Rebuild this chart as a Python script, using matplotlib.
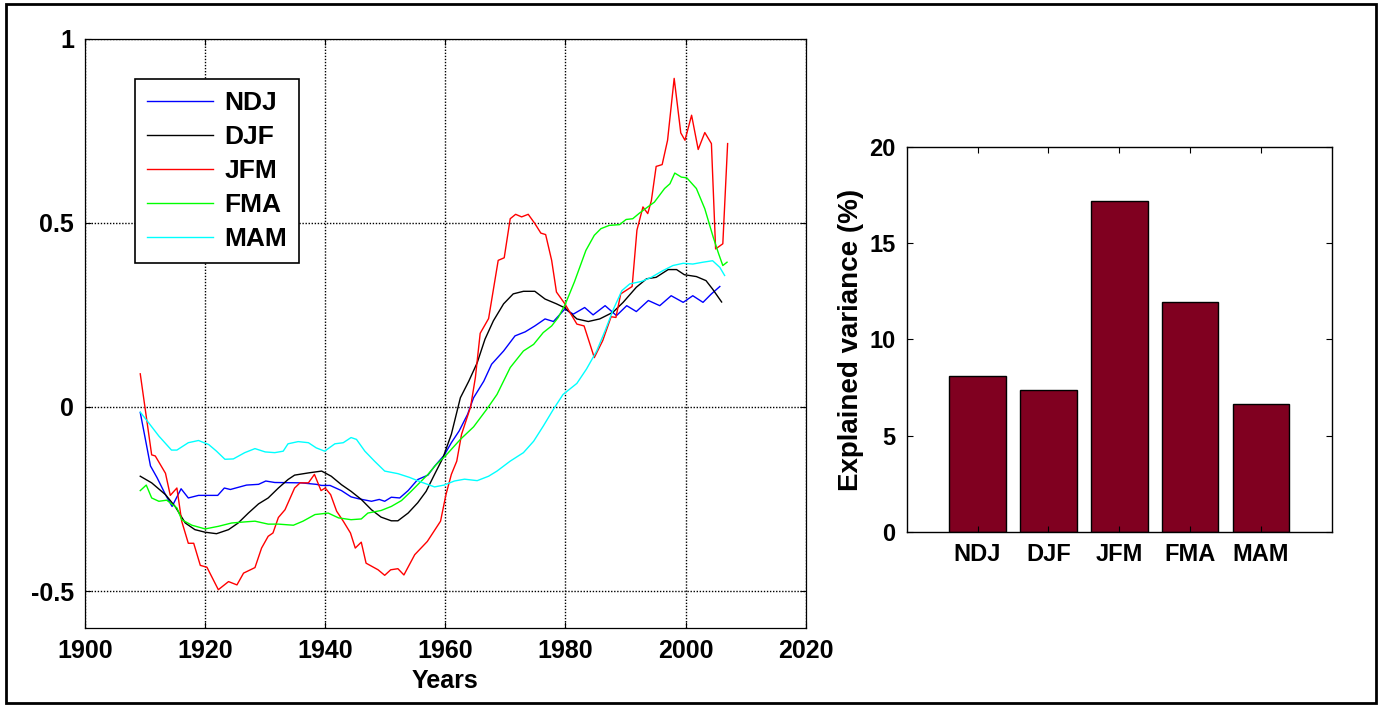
import matplotlib
matplotlib.use("Agg")
import matplotlib.pyplot as plt
from matplotlib.patches import Rectangle

plt.rcParams['font.family'] = ['Liberation Sans', 'DejaVu Sans']
plt.rcParams['font.weight'] = 'bold'

# --- left panel: smoothed series ---
ndj_years = [1909.2, 1910, 1910.9, 1912, 1913.4, 1914.5, 1916, 1917.2, 1918.9, 1922.1, 1923.2,
             1924.2, 1926.9, 1928.9, 1930.1, 1931.6, 1936, 1938.5, 1939.4, 1940.8, 1942.7, 1944.3,
             1945.5, 1947.7, 1949, 1949.9, 1951, 1952.4, 1953.8, 1955.4, 1957.1, 1958.2, 1959.8,
             1961, 1962.3, 1963.7, 1964.7, 1966.4, 1967.7, 1969.7, 1971.6, 1973.3, 1974.9, 1976.6,
             1978, 1979.9, 1981.3, 1983.2, 1984.6, 1986.6, 1988.5, 1990.2, 1991.8, 1993.8, 1995.7,
             1997.6, 1999.6, 2001.2, 2002.9, 2004.3, 2005.7]
ndj_vals = [-0.015, -0.083, -0.16, -0.192, -0.238, -0.27, -0.222, -0.247, -0.24, -0.24, -0.22,
            -0.224, -0.212, -0.21, -0.201, -0.205, -0.206, -0.21, -0.213, -0.213, -0.227, -0.244,
            -0.249, -0.256, -0.251, -0.256, -0.245, -0.247, -0.227, -0.197, -0.185, -0.161, -0.131,
            -0.097, -0.065, -0.02, 0.025, 0.07, 0.116, 0.152, 0.193, 0.204, 0.22, 0.239,
            0.232, 0.266, 0.252, 0.27, 0.25, 0.275, 0.248, 0.275, 0.259, 0.289, 0.275,
            0.302, 0.284, 0.302, 0.284, 0.307, 0.327]

djf_years = [1909.2, 1911.1, 1913.4, 1915, 1916.7, 1918.3, 1920, 1921.9, 1923.9, 1925.5, 1927.2,
             1928.9, 1930.5, 1932.2, 1933.8, 1934.9, 1937.2, 1939.4, 1941, 1942.7, 1944.3, 1946,
             1947.7, 1949.3, 1951, 1952.1, 1953.8, 1955.4, 1956.8, 1958.2, 1959.6, 1961, 1962.5,
             1963.9, 1965.3, 1966.6, 1968, 1969.7, 1971.3, 1973, 1974.9, 1976.6, 1978.5, 1979.9,
             1981.9, 1983.8, 1985.7, 1987.9, 1989.6, 1991.8, 1993.5, 1995.1, 1997.1, 1998.5,
             1999.8, 2001.8, 2003.4, 2004.5, 2006]
djf_vals = [-0.188, -0.206, -0.238, -0.27, -0.315, -0.333, -0.34, -0.344, -0.333, -0.315, -0.288,
            -0.263, -0.247, -0.22, -0.197, -0.185, -0.179, -0.174, -0.188, -0.211, -0.229, -0.251,
            -0.279, -0.299, -0.309, -0.309, -0.288, -0.26, -0.229, -0.183, -0.138, -0.074, 0.025,
            0.07, 0.12, 0.184, 0.234, 0.28, 0.307, 0.314, 0.314, 0.293, 0.28, 0.269,
            0.239, 0.232, 0.239, 0.257, 0.284, 0.325, 0.348, 0.352, 0.373, 0.373,
            0.359, 0.354, 0.343, 0.32, 0.285]

jfm_years = [1909.2, 1911.1, 1911.7, 1913.4, 1914.2, 1915.3, 1916.1, 1917.2, 1918.1, 1919.2,
             1920.3, 1922.2, 1923.9, 1925.3, 1926.4, 1928.3, 1929.4, 1930.5, 1931.3, 1932.2,
             1933.3, 1934.9, 1935.8, 1937.2, 1938.2, 1939.3, 1940, 1940.9, 1941.9, 1943, 1944.2,
             1945, 1946, 1946.8, 1948.8, 1949.9, 1950.9, 1952.1, 1953.1, 1954.9, 1957, 1959.2,
             1960.1, 1961, 1961.9, 1962.7, 1964.2, 1965, 1965.8, 1967.2, 1968.8, 1969.8, 1970.8,
             1971.7, 1972.7, 1973.8, 1974.9, 1975.9, 1976.7, 1977.7, 1978.5, 1979.9, 1981.9,
             1983.1, 1984.8, 1986.2, 1987.6, 1988.4, 1989.2, 1991.1, 1991.9, 1992.9, 1993.7,
             1994.3, 1995.1, 1996.1, 1997, 1998.1, 1999.2, 1999.9, 2001, 2002.1, 2003.2, 2004.3,
             2005, 2006.2, 2007]
jfm_vals = [0.09, -0.13, -0.133, -0.18, -0.24, -0.22, -0.31, -0.37, -0.37, -0.43,
            -0.435, -0.496, -0.474, -0.483, -0.451, -0.436, -0.383, -0.351, -0.342, -0.30,
            -0.279, -0.22, -0.206, -0.206, -0.183, -0.227, -0.22, -0.238, -0.283, -0.31, -0.342,
            -0.383, -0.367, -0.424, -0.442, -0.457, -0.442, -0.439, -0.456, -0.401, -0.365, -0.31,
            -0.238, -0.183, -0.147, -0.074, 0.0, 0.08, 0.2, 0.24, 0.398, 0.405, 0.511,
            0.523, 0.516, 0.523, 0.498, 0.472, 0.468, 0.398, 0.312, 0.28, 0.225,
            0.22, 0.134, 0.18, 0.245, 0.243, 0.307, 0.327, 0.48, 0.543, 0.525,
            0.56, 0.653, 0.658, 0.724, 0.892, 0.744, 0.724, 0.792, 0.699, 0.745, 0.715,
            0.429, 0.443, 0.715]

fma_years = [1909.2, 1910.2, 1911.1, 1912.3, 1913.6, 1915.3, 1916.1, 1917.8, 1920, 1922.2,
             1924.4, 1926.6, 1928.3, 1930.5, 1932.2, 1934.7, 1936.3, 1938.3, 1940.5, 1942.2,
             1944.3, 1946, 1947.1, 1949.3, 1951, 1952.7, 1954.3, 1955.7, 1957.1, 1958.5, 1960,
             1962.5, 1964.7, 1966.9, 1968.6, 1970.8, 1973, 1974.7, 1976.3, 1977.7, 1978.8, 1980,
             1981.5, 1983.4, 1984.8, 1985.9, 1987.3, 1989, 1990.1, 1991.2, 1992.3, 1993.7, 1994.8,
             1996.5, 1997.4, 1998.2, 1999.3, 2000.2, 2001.8, 2003.2, 2004.6, 2005.5, 2006.2, 2006.9]
fma_vals = [-0.227, -0.212, -0.247, -0.256, -0.253, -0.274, -0.306, -0.321, -0.331, -0.324,
            -0.315, -0.312, -0.31, -0.318, -0.318, -0.321, -0.31, -0.292, -0.288, -0.301,
            -0.306, -0.304, -0.288, -0.281, -0.27, -0.254, -0.229, -0.206, -0.183, -0.156, -0.133,
            -0.088, -0.054, -0.006, 0.034, 0.107, 0.152, 0.17, 0.202, 0.22, 0.243, 0.28,
            0.34, 0.425, 0.466, 0.484, 0.493, 0.495, 0.509, 0.511, 0.526, 0.543, 0.556,
            0.593, 0.606, 0.635, 0.624, 0.622, 0.593, 0.538, 0.461, 0.416, 0.384, 0.393]

mam_years = [1909.2, 1910.6, 1912.3, 1914.4, 1915.3, 1917.2, 1918.9, 1920.6, 1921.9, 1923.3,
             1924.7, 1926.6, 1928.3, 1930, 1931.6, 1933, 1933.8, 1935.5, 1937.2, 1938.5, 1939.9,
             1941.6, 1943, 1944.3, 1945.2, 1946.6, 1948.2, 1949.9, 1952.1, 1954, 1956, 1958.2,
             1959.8, 1961.5, 1963.2, 1965.3, 1967.2, 1968.6, 1970.8, 1973, 1974.7, 1976.3, 1978,
             1979.6, 1981.9, 1983.5, 1985.2, 1986.6, 1988, 1989.4, 1990.7, 1992.7, 1994.3, 1996.2,
             1997.9, 1999.6, 2001.2, 2002.9, 2004.5, 2005.7, 2006.5]
mam_vals = [-0.014, -0.043, -0.079, -0.117, -0.117, -0.097, -0.091, -0.102, -0.12, -0.142,
            -0.141, -0.124, -0.113, -0.122, -0.124, -0.12, -0.1, -0.094, -0.097, -0.111, -0.12,
            -0.1, -0.097, -0.083, -0.088, -0.12, -0.147, -0.174, -0.181, -0.191, -0.204, -0.217,
            -0.212, -0.201, -0.196, -0.2, -0.188, -0.174, -0.147, -0.124, -0.093, -0.052, -0.006,
            0.034, 0.064, 0.103, 0.152, 0.207, 0.266, 0.316, 0.334, 0.341, 0.352, 0.37,
            0.384, 0.39, 0.388, 0.393, 0.397, 0.379, 0.357]

# --- right panel: explained variance ---
seasons = ['NDJ', 'DJF', 'JFM', 'FMA', 'MAM']
variance = [8.1, 7.4, 17.2, 11.95, 6.65]

fig = plt.figure(figsize=(13.8, 7.06), dpi=100)

# black frame round the whole figure
fig.patches.append(Rectangle((0.004, 0.004), 0.993, 0.991, transform=fig.transFigure,
                             fill=False, edgecolor='black', linewidth=2))

ax = fig.add_axes([85 / 1380, 78 / 706, 720.7 / 1380, 589.4 / 706])
series = [(ndj_years, ndj_vals, '#0000ff', 'NDJ'),
          (djf_years, djf_vals, 'black', 'DJF'),
          (jfm_years, jfm_vals, '#ff0000', 'JFM'),
          (fma_years, fma_vals, '#00ff00', 'FMA'),
          (mam_years, mam_vals, '#00ffff', 'MAM')]
for yrs, vals, col, lab in series:
    ax.plot(yrs, vals, color=col, linewidth=1.0, label=lab)

ax.set_xlim(1900, 2020)
ax.set_ylim(-0.6, 1)
ax.set_xticks([1900, 1920, 1940, 1960, 1980, 2000, 2020])
ax.set_yticks([-0.5, 0, 0.5, 1])
ax.set_yticklabels(['-0.5', '0', '0.5', '1'])
ax.grid(True, color='black', linestyle=(0, (1, 1.2)), linewidth=1.0)
ax.tick_params(direction='in', length=4, labelsize=18, top=True, right=True, pad=8)
for lbl in ax.get_xticklabels() + ax.get_yticklabels():
    lbl.set_fontweight('bold')
ax.set_xlabel('Years', fontsize=18, fontweight='bold', labelpad=4)
for sp in ax.spines.values():
    sp.set_linewidth(0.9)

leg = ax.legend(loc='upper left', bbox_to_anchor=(0.069, 0.931), borderaxespad=0,
                prop={'weight': 'bold', 'size': 19}, fancybox=False,
                framealpha=1, edgecolor='black', handlelength=2.5, handletextpad=0.45,
                labelspacing=0.38, borderpad=0.45)
leg.get_frame().set_linewidth(1.2)

# bar panel
bx = fig.add_axes([906.7 / 1380, 173.7 / 706, 425 / 1380, 385.6 / 706])
pos = list(range(1, len(seasons) + 1))
bx.bar(pos, variance, width=0.8, color='#800020', edgecolor='black', linewidth=1)
bx.set_xlim(0, 6)
bx.set_ylim(0, 20)
bx.set_xticks(pos)
bx.set_xticklabels(seasons)
bx.set_yticks([0, 5, 10, 15, 20])
bx.tick_params(direction='in', length=4, labelsize=17, top=True, right=True, pad=8)
for lbl in bx.get_xticklabels() + bx.get_yticklabels():
    lbl.set_fontweight('bold')
bx.set_ylabel('Explained variance (%)', fontsize=20, fontweight='bold', labelpad=4)
for sp in bx.spines.values():
    sp.set_linewidth(1.0)

fig.savefig('out.png', dpi=100)
